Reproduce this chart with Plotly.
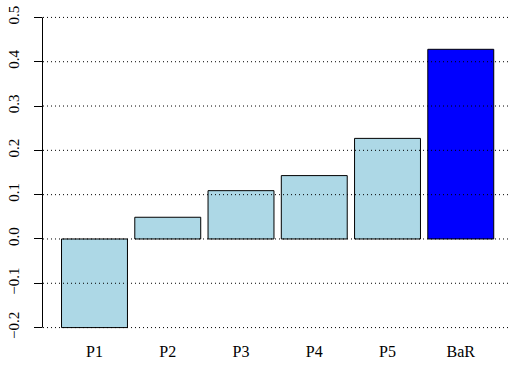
import plotly.graph_objects as go

# Portfolio returns by bucket
categories = ["P1", "P2", "P3", "P4", "P5", "BaR"]
values = [-0.2, 0.049, 0.109, 0.143, 0.227, 0.428]
bar_colors = ["#ADD8E6", "#ADD8E6", "#ADD8E6", "#ADD8E6", "#ADD8E6", "#0000FF"]

y_ticks = [-0.2, -0.1, 0.0, 0.1, 0.2, 0.3, 0.4, 0.5]
y_tick_text = ["\u22120.2", "\u22120.1", "0.0", "0.1", "0.2", "0.3", "0.4", "0.5"]

positions = list(range(len(categories)))

fig = go.Figure()
fig.add_trace(go.Bar(
    x=positions,
    y=values,
    width=0.9,
    marker=dict(color=bar_colors, line=dict(color="black", width=1)),
    hoverinfo="skip",
))

# dotted reference lines drawn over the bars
shapes = []
for t in y_ticks:
    shapes.append(dict(
        type="line", xref="paper", yref="y", x0=0, x1=1, y0=t, y1=t,
        line=dict(color="black", width=1, dash="1px,3px"), layer="above",
    ))
# y axis line spanning the tick range only (nudged half a pixel for a crisp stroke)
axis_x = -0.5 / 467
shapes.append(dict(
    type="line", xref="paper", yref="y", x0=axis_x, x1=axis_x,
    y0=min(y_ticks), y1=max(y_ticks),
    line=dict(color="black", width=1), layer="above",
))

serif = "Liberation Serif, Times New Roman, serif"

fig.update_layout(
    width=510, height=376,
    margin=dict(l=43, r=0, t=5, b=36),
    paper_bgcolor="white", plot_bgcolor="white",
    showlegend=False,
    shapes=shapes,
    font=dict(family=serif, size=15, color="black"),
    xaxis=dict(
        range=[-0.703, 5.672],
        tickmode="array", tickvals=positions, ticktext=categories,
        showgrid=False, zeroline=False, showline=False, ticks="",
        tickfont=dict(family=serif, size=16, color="black"),
        ticklabelstandoff=0,
    ),
    yaxis=dict(
        range=[-0.228, 0.528],
        tickmode="array", tickvals=y_ticks, ticktext=y_tick_text,
        tickangle=-90,
        showgrid=False, zeroline=False, showline=False,
        ticks="outside", ticklen=8, tickcolor="black", tickwidth=1,
        tickfont=dict(family=serif, size=15, color="black"),
        ticklabelstandoff=9,
    ),
)

fig.write_html("out.html")
